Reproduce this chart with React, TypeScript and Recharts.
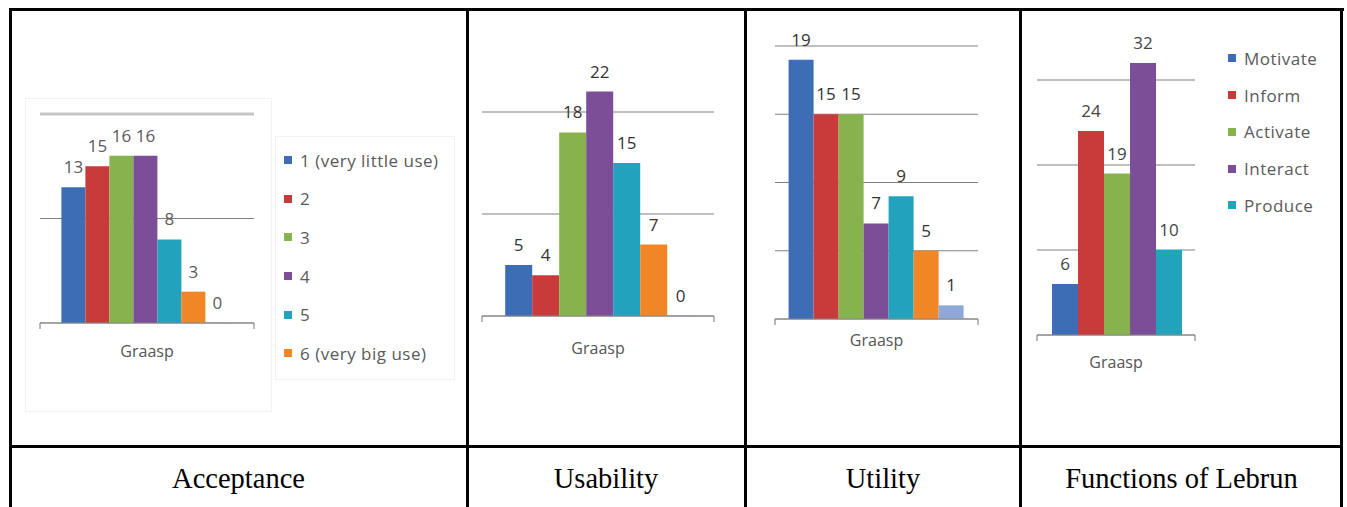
import React from 'react';
import { BarChart, Bar, XAxis, YAxis, CartesianGrid, LabelList, Legend, ReferenceLine } from 'recharts';

const categories = ['Graasp'];

const acceptanceSeries = ['1 (very little use)', '2', '3', '4', '5', '6 (very big use)', '7'];
const acceptanceValues = [13, 15, 16, 16, 8, 3, 0];
const acceptanceTicks = [0, 10];
const acceptanceMax = 20;

const usabilitySeries = ['1', '2', '3', '4', '5', '6', '7'];
const usabilityValues = [5, 4, 18, 22, 15, 7, 0];
const usabilityTicks = [0, 10, 20];
const usabilityMax = 25;

const utilitySeries = ['1', '2', '3', '4', '5', '6', '7'];
const utilityValues = [19, 15, 15, 7, 9, 5, 1];
const utilityTicks = [0, 5, 10, 15, 20];
const utilityMax = 20;

const lebrunSeries = ['Motivate', 'Inform', 'Activate', 'Interact', 'Produce'];
const lebrunValues = [6, 24, 19, 32, 10];
const lebrunTicks = [0, 10, 20, 30];
const lebrunMax = 35;

const captions = ['Acceptance', 'Usability', 'Utility', 'Functions of Lebrun'];

const seriesColors = ['#3D6DB5', '#C93A3B', '#86B34D', '#7B4E97', '#23A2BD', '#F08626', '#8EA8D8'];

const FONT = '"Open Sans", "DejaVu Sans", sans-serif';

function makeData(values: number[]) {
  return categories.map((name) => {
    const row: Record<string, any> = { name };
    values.forEach((v, i) => {
      row['s' + i] = v;
    });
    return row;
  });
}

type ChartProps = {
  left: number;
  top: number;
  width: number;
  height: number;
  margin: { top: number; right: number; bottom: number; left: number };
  max: number;
  ticks: number[];
  names: string[];
  values: number[];
  labelColor: string;
  gap: string;
  legendCount: number;
  legendLeft?: number;
  legendTop?: number;
  legendItemH?: number;
  topLine?: boolean;
  axisLabelDy: number;
};

function MiniChart(p: ChartProps) {
  const data = makeData(p.values);
  const plotW = p.width - p.margin.left - p.margin.right;
  const halfW = plotW / 2;
  const renderTick = (props: any) => {
    const { x, y, payload } = props;
    return (
      <g>
        <line x1={x - halfW} x2={x - halfW} y1={y} y2={y + 6} stroke="#8a8a8a" strokeWidth={1.2} />
        <line x1={x + halfW} x2={x + halfW} y1={y} y2={y + 6} stroke="#8a8a8a" strokeWidth={1.2} />
        <text
          x={x}
          y={y + p.axisLabelDy}
          textAnchor="middle"
          dominantBaseline="central"
          fill="#555"
          fontSize={16}
          fontFamily={FONT}
        >
          {payload.value}
        </text>
      </g>
    );
  };
  const legendContent = (props: any) => {
    const items = (props.payload || [])
      .filter((e: any) => e.type !== 'none' && p.names.indexOf(e.value) > -1 && p.names.indexOf(e.value) < p.legendCount)
      .sort((a: any, b: any) => p.names.indexOf(a.value) - p.names.indexOf(b.value));
    return (
      <div>
        {items.map((entry: any) => (
          <div
            key={entry.value}
            style={{ height: p.legendItemH, display: 'flex', alignItems: 'center', whiteSpace: 'nowrap' }}
          >
            <span style={{ width: 8, height: 8, background: entry.color, marginRight: 8, display: 'inline-block' }} />
            <span style={{ fontSize: 17, letterSpacing: 0.5, color: '#5a5a5a', fontFamily: FONT }}>{entry.value}</span>
          </div>
        ))}
      </div>
    );
  };
  return (
    <div style={{ position: 'absolute', left: p.left, top: p.top }}>
      <BarChart
        width={p.width}
        height={p.height}
        data={data}
        margin={p.margin}
        barGap={0}
        barCategoryGap={p.gap}
      >
        <CartesianGrid vertical={false} horizontalValues={p.ticks} stroke="#808080" strokeWidth={1.2} />
        <XAxis
          dataKey="name"
          height={40}
          tickSize={0}
          tickMargin={0}
          tickLine={false}
          axisLine={{ stroke: '#8a8a8a', strokeWidth: 1.2 }}
          tick={renderTick}
          interval={0}
        />
        <YAxis hide domain={[0, p.max]} ticks={p.ticks} />
        {p.topLine && <ReferenceLine y={p.max} stroke="#c6c6c6" strokeWidth={3} />}
        {p.legendCount > 0 && (
          <Legend
            layout="vertical"
            align="center"
            verticalAlign="middle"
            width={200}
            wrapperStyle={{ left: p.legendLeft, top: p.legendTop }}
            content={legendContent}
          />
        )}
        {p.values.map((_, i) => (
          <Bar
            key={i}
            dataKey={'s' + i}
            name={p.names[i]}
            fill={seriesColors[i]}
            isAnimationActive={false}
            minPointSize={0.5}
            legendType={i < p.legendCount ? 'square' : 'none'}
          >
            <LabelList
              dataKey={'s' + i}
              position="top"
              offset={14}
              fill={p.labelColor}
              fontSize={17}
              fontFamily={FONT}
            />
          </Bar>
        ))}
      </BarChart>
    </div>
  );
}

const lineStyle = (l: number, t: number, w: number, h: number): React.CSSProperties => ({
  position: 'absolute',
  left: l,
  top: t,
  width: w,
  height: h,
  background: '#000',
});

const captionCells = [
  [11, 466],
  [468, 744],
  [746, 1020],
  [1022, 1341],
];

export default function App() {
  return (
    <div
      style={{
        position: 'absolute',
        left: 0,
        top: 0,
        width: 1347,
        height: 507,
        background: '#fff',
        overflow: 'hidden',
      }}
    >
      <div style={{ position: 'absolute', left: 25, top: 98, width: 245, height: 312, border: '1px solid #f2f2f2' }} />
      <div style={{ position: 'absolute', left: 275, top: 136, width: 178, height: 242, border: '1px solid #f2f2f2' }} />

      <MiniChart
        left={25}
        top={98}
        width={430}
        height={312}
        margin={{ top: 16, right: 201, bottom: 47, left: 15 }}
        max={acceptanceMax}
        ticks={acceptanceTicks}
        names={acceptanceSeries}
        values={acceptanceValues}
        labelColor="#5a5a5a"
        gap="10%"
        legendCount={6}
        legendLeft={259}
        legendTop={43}
        legendItemH={38.6}
        topLine
        axisLabelDy={28}
      />
      <MiniChart
        left={470}
        top={20}
        width={270}
        height={400}
        margin={{ top: 41, right: 26, bottom: 64, left: 12 }}
        max={usabilityMax}
        ticks={usabilityTicks}
        names={usabilitySeries}
        values={usabilityValues}
        labelColor="#333"
        gap="10%"
        legendCount={0}
        axisLabelDy={32}
      />
      <MiniChart
        left={750}
        top={20}
        width={240}
        height={400}
        margin={{ top: 26, right: 12, bottom: 61, left: 25 }}
        max={utilityMax}
        ticks={utilityTicks}
        names={utilitySeries}
        values={utilityValues}
        labelColor="#333"
        gap="6.7%"
        legendCount={0}
        axisLabelDy={21}
      />
      <MiniChart
        left={1025}
        top={20}
        width={320}
        height={400}
        margin={{ top: 17.5, right: 150, bottom: 45, left: 12 }}
        max={lebrunMax}
        ticks={lebrunTicks}
        names={lebrunSeries}
        values={lebrunValues}
        labelColor="#444"
        gap="9.5%"
        legendCount={5}
        legendLeft={203}
        legendTop={20}
        legendItemH={36.75}
        axisLabelDy={27}
      />

      <div style={lineStyle(9, 8, 1335, 3)} />
      <div style={lineStyle(9, 8, 3, 499)} />
      <div style={lineStyle(466, 8, 3, 499)} />
      <div style={lineStyle(744, 8, 3, 499)} />
      <div style={lineStyle(1019, 8, 3, 499)} />
      <div style={lineStyle(1340, 8, 3, 499)} />
      <div style={lineStyle(9, 445, 1334, 3)} />

      {captions.map((c, i) => (
        <div
          key={c}
          style={{
            position: 'absolute',
            left: captionCells[i][0],
            width: captionCells[i][1] - captionCells[i][0],
            top: 465,
            textAlign: 'center',
            fontFamily: '"Liberation Serif", "Times New Roman", serif',
            fontSize: 28.5,
            lineHeight: '28.5px',
            color: '#000',
          }}
        >
          {c}
        </div>
      ))}
    </div>
  );
}
